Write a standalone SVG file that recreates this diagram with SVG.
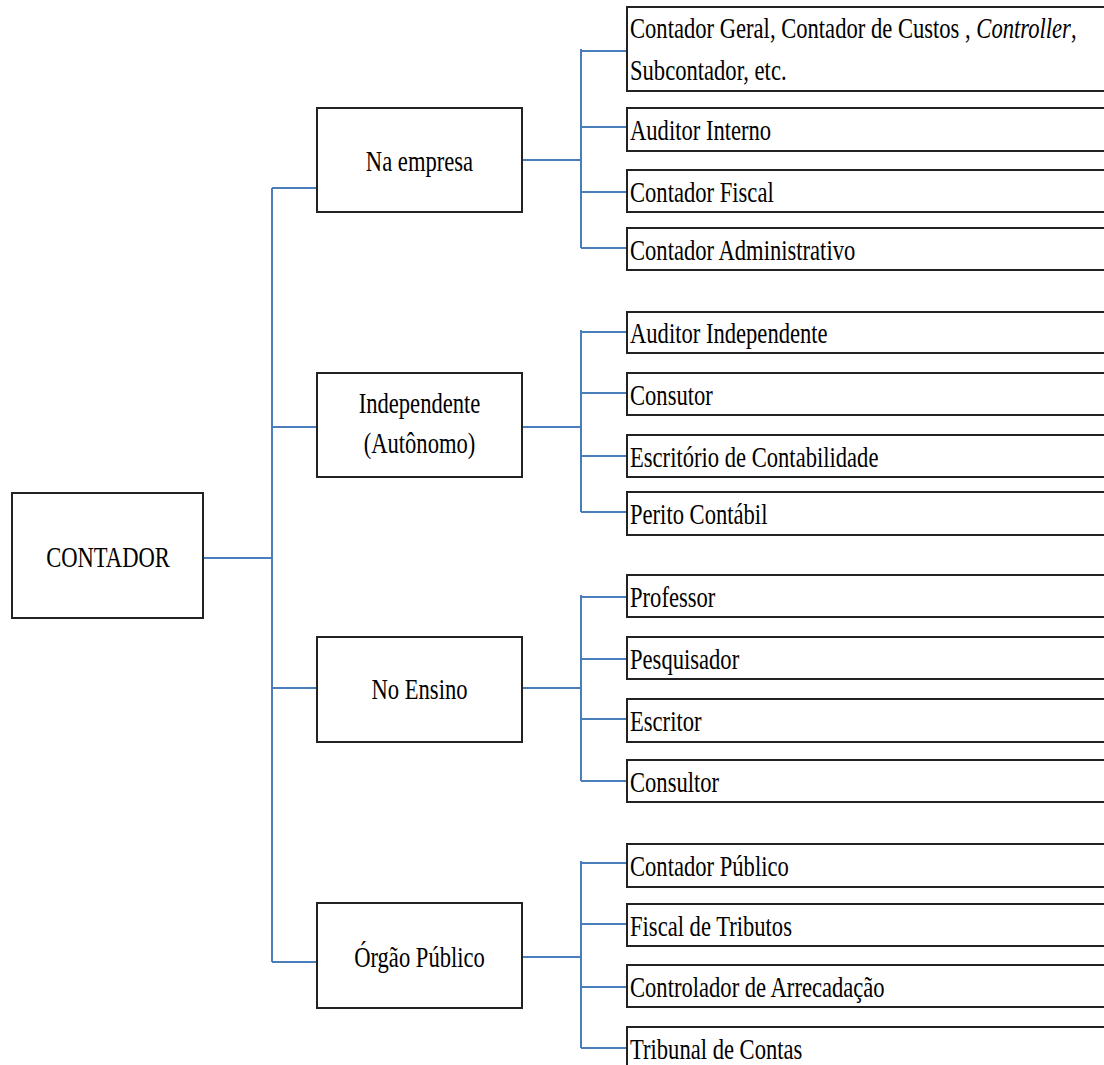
<svg xmlns="http://www.w3.org/2000/svg" width="1104" height="1065" viewBox="0 0 1104 1065">
<style>
.box{fill:#fff;stroke:#222;stroke-width:2}
.t{font-family:'Liberation Serif','Tinos','Times New Roman','DejaVu Serif',serif;font-size:22.6px;fill:#000}
.c{text-anchor:middle}
.con{fill:none;stroke:#4a7ebb;stroke-width:2}
</style>
<rect width="1104" height="1065" fill="#fff"/>
<g id="connectors">
<path class="con" d="M203,558H272M272,188V962M272,188H317M272,427H317M272,688H317M272,962H317"/>
<path class="con" d="M522,160H581M581,49V248M581,51H627M581,127H627M581,192H627M581,248H627"/>
<path class="con" d="M522,427H581M581,330V512M581,332H627M581,393H627M581,456H627M581,512H627"/>
<path class="con" d="M522,688H581M581,595V781M581,597H627M581,659H627M581,719H627M581,781H627"/>
<path class="con" d="M522,957H581M581,861V1048M581,863H627M581,924H627M581,987H627M581,1048H627"/>
</g>
<g id="root"><rect class="box" x="12" y="493" width="191" height="125"/><text class="t c" transform="translate(108,567) scale(1,1.32)">CONTADOR</text></g>
<g id="na-empresa"><rect class="box" x="317" y="108" width="205" height="104"/><text class="t c" transform="translate(419.5,171) scale(1,1.32)">Na empresa</text></g>
<g id="independente"><rect class="box" x="317" y="373" width="205" height="104"/><text class="t c" transform="translate(419.5,413) scale(1,1.32)">Independente</text><text class="t c" transform="translate(419.5,453) scale(1,1.32)">(Autônomo)</text></g>
<g id="no-ensino"><rect class="box" x="317" y="637" width="205" height="105"/><text class="t c" transform="translate(419.5,699) scale(1,1.32)">No Ensino</text></g>
<g id="orgao-publico"><rect class="box" x="317" y="903" width="205" height="105"/><text class="t c" transform="translate(419.5,967) scale(1,1.32)">Órgão Público</text></g>
<g id="leaf1"><rect class="box" x="627" y="7" width="490" height="84"/><text class="t" transform="translate(630,38) scale(1,1.32)">Contador Geral, Contador de Custos , <tspan font-style="italic">Controller</tspan>,</text><text class="t" transform="translate(630,80) scale(1,1.32)">Subcontador, etc.</text></g>
<g id="leaf2"><rect class="box" x="627" y="108" width="490" height="43"/><text class="t" transform="translate(630,140) scale(1,1.32)">Auditor Interno</text></g>
<g id="leaf3"><rect class="box" x="627" y="170" width="490" height="42"/><text class="t" transform="translate(630,202) scale(1,1.32)">Contador Fiscal</text></g>
<g id="leaf4"><rect class="box" x="627" y="228" width="490" height="42"/><text class="t" transform="translate(630,260) scale(1,1.32)">Contador Administrativo</text></g>
<g id="leaf5"><rect class="box" x="627" y="312" width="490" height="41"/><text class="t" transform="translate(630,343) scale(1,1.32)">Auditor Independente</text></g>
<g id="leaf6"><rect class="box" x="627" y="373" width="490" height="42"/><text class="t" transform="translate(630,405) scale(1,1.32)">Consutor</text></g>
<g id="leaf7"><rect class="box" x="627" y="435" width="490" height="42"/><text class="t" transform="translate(630,467) scale(1,1.32)">Escritório de Contabilidade</text></g>
<g id="leaf8"><rect class="box" x="627" y="492" width="490" height="43"/><text class="t" transform="translate(630,524) scale(1,1.32)">Perito Contábil</text></g>
<g id="leaf9"><rect class="box" x="627" y="575" width="490" height="42"/><text class="t" transform="translate(630,607) scale(1,1.32)">Professor</text></g>
<g id="leaf10"><rect class="box" x="627" y="637" width="490" height="42"/><text class="t" transform="translate(630,669) scale(1,1.32)">Pesquisador</text></g>
<g id="leaf11"><rect class="box" x="627" y="699" width="490" height="43"/><text class="t" transform="translate(630,731) scale(1,1.32)">Escritor</text></g>
<g id="leaf12"><rect class="box" x="627" y="760" width="490" height="42"/><text class="t" transform="translate(630,792) scale(1,1.32)">Consultor</text></g>
<g id="leaf13"><rect class="box" x="627" y="844" width="490" height="43"/><text class="t" transform="translate(630,876) scale(1,1.32)">Contador Público</text></g>
<g id="leaf14"><rect class="box" x="627" y="904" width="490" height="42"/><text class="t" transform="translate(630,936) scale(1,1.32)">Fiscal de Tributos</text></g>
<g id="leaf15"><rect class="box" x="627" y="965" width="490" height="42"/><text class="t" transform="translate(630,997) scale(1,1.32)">Controlador de Arrecadação</text></g>
<g id="leaf16"><rect class="box" x="627" y="1027" width="490" height="50"/><text class="t" transform="translate(630,1059) scale(1,1.32)">Tribunal de Contas</text></g>
</svg>
